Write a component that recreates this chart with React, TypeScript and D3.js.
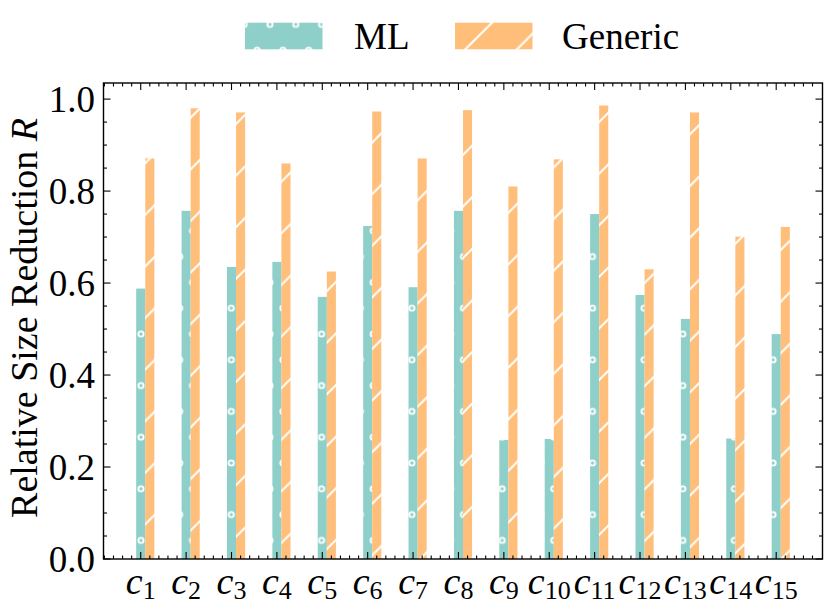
import React, { useEffect, useRef } from 'react';
import * as d3 from 'd3';

// category subscripts c1..c15
const categories: string[] = ['1', '2', '3', '4', '5', '6', '7', '8', '9', '10', '11', '12', '13', '14', '15'];
const mlValues: number[] = [0.588, 0.757, 0.635, 0.646, 0.57, 0.724, 0.591, 0.757, 0.259, 0.261, 0.75, 0.574, 0.522, 0.262, 0.489];
const genericValues: number[] = [0.871, 0.98, 0.971, 0.86, 0.625, 0.973, 0.871, 0.976, 0.81, 0.869, 0.986, 0.63, 0.971, 0.701, 0.722];
const yTickValues: number[] = [0, 0.2, 0.4, 0.6, 0.8, 1.0];
const seriesNames: string[] = ['ML', 'Generic'];

const TEAL = '#8ECFC9';
const ORANGE = '#FFBE7A';
const FONT = "'Liberation Serif'";

export default function App() {
    const ref = useRef<SVGSVGElement>(null);

    useEffect(() => {
        const svg = d3.select(ref.current!);
        svg.selectAll('*').remove();

        const left = 103.5;
        const right = 822.5;
        const top = 83;
        const bottom = 559;
        const barW = 0.2;

        const x = d3.scaleLinear().domain([-0.82, 15.02]).range([left, right]);
        const y = d3.scaleLinear().domain([0, 1.035]).range([bottom, top]);

        // hatch patterns (anchored to the page, like matplotlib)
        const defs = svg.append('defs');
        const T = 25.8;
        const dots = defs
            .append('pattern')
            .attr('id', 'dots')
            .attr('patternUnits', 'userSpaceOnUse')
            .attr('x', 12)
            .attr('y', 24.4)
            .attr('width', T)
            .attr('height', 2 * T);
        dots.append('rect').attr('width', T).attr('height', 2 * T).attr('fill', TEAL);
        [
            [0, 0],
            [T, 0],
            [0, 2 * T],
            [T, 2 * T],
            [T / 2, T]
        ].forEach(([cx, cy]) => {
            dots.append('circle')
                .attr('cx', cx)
                .attr('cy', cy)
                .attr('r', 2.6)
                .attr('fill', 'none')
                .attr('stroke', 'white')
                .attr('stroke-width', 1.9);
        });

        const P = 51.6;
        const diag = defs
            .append('pattern')
            .attr('id', 'diag')
            .attr('patternUnits', 'userSpaceOnUse')
            .attr('x', 50.3)
            .attr('y', 0)
            .attr('width', P)
            .attr('height', P);
        diag.append('rect').attr('width', P).attr('height', P).attr('fill', ORANGE);
        [
            [-2, P + 2, P + 2, -2],
            [-2, 2, 2, -2],
            [P - 2, P + 2, P + 2, P - 2]
        ].forEach(([x1, y1, x2, y2]) => {
            diag.append('line')
                .attr('x1', x1)
                .attr('y1', y1)
                .attr('x2', x2)
                .attr('y2', y2)
                .attr('stroke', 'white')
                .attr('stroke-width', 2);
        });

        // bars
        svg.append('g')
            .selectAll('rect')
            .data(mlValues)
            .join('rect')
            .attr('x', (_, i) => x(i - barW / 2))
            .attr('y', (d) => y(d))
            .attr('width', x(barW) - x(0))
            .attr('height', (d) => y(0) - y(d))
            .attr('fill', 'url(#dots)');

        svg.append('g')
            .selectAll('rect')
            .data(genericValues)
            .join('rect')
            .attr('x', (_, i) => x(i + barW / 2))
            .attr('y', (d) => y(d))
            .attr('width', x(barW) - x(0))
            .attr('height', (d) => y(0) - y(d))
            .attr('fill', 'url(#diag)');

        // ticks (inward, all four sides)
        const ticks = svg.append('g').attr('stroke', 'black').attr('stroke-width', 1.1);
        const xMajor = categories.map((_, i) => i);
        const xMinor = d3.range(-4, 76).map((k) => k * 0.2).filter((v) => v >= -0.82 && v <= 15.02 && Math.abs(v - Math.round(v)) > 1e-6);
        const yMinor = d3.range(0, 21).map((k) => k * 0.05).filter((v) => Math.abs(v * 5 - Math.round(v * 5)) > 1e-6);

        const drawX = (vals: number[], len: number) => {
            vals.forEach((v) => {
                ticks.append('line').attr('x1', x(v)).attr('x2', x(v)).attr('y1', bottom).attr('y2', bottom - len);
                ticks.append('line').attr('x1', x(v)).attr('x2', x(v)).attr('y1', top).attr('y2', top + len);
            });
        };
        const drawY = (vals: number[], len: number) => {
            vals.forEach((v) => {
                ticks.append('line').attr('x1', left).attr('x2', left + len).attr('y1', y(v)).attr('y2', y(v));
                ticks.append('line').attr('x1', right).attr('x2', right - len).attr('y1', y(v)).attr('y2', y(v));
            });
        };
        drawX(xMajor, 7);
        drawX(xMinor, 3.5);
        drawY(yTickValues, 7);
        drawY(yMinor, 3.5);

        // frame
        svg.append('rect')
            .attr('x', left)
            .attr('y', top)
            .attr('width', right - left)
            .attr('height', bottom - top)
            .attr('fill', 'none')
            .attr('stroke', 'black')
            .attr('stroke-width', 1.4);

        // y tick labels
        svg.append('g')
            .selectAll('text')
            .data(yTickValues)
            .join('text')
            .attr('x', 95)
            .attr('y', (d) => y(d) + 12.5)
            .attr('text-anchor', 'end')
            .style('font-size', '37px')
            .style('font-family', FONT)
            .text((d) => d3.format('.1f')(d));

        // x tick labels c_i
        const xl = svg.append('g')
            .selectAll('text')
            .data(categories)
            .join('text')
            .attr('x', (_, i) => x(i))
            .attr('y', 594.3)
            .attr('text-anchor', 'middle')
            .style('font-family', FONT)
            .style('font-size', '38px');
        xl.append('tspan').style('font-style', 'italic').text('c');
        xl.append('tspan').style('font-size', '26px').attr('dy', 4.7).text((d) => d);

        // y axis title
        const yl = svg.append('text')
            .attr('transform', 'translate(36.5,318) rotate(-90)')
            .attr('text-anchor', 'middle')
            .style('font-family', FONT)
            .style('font-size', '38px');
        yl.append('tspan').text('Relative Size Reduction ');
        yl.append('tspan').style('font-style', 'italic').text('R');

        // legend
        const legend = svg.append('g');
        const patchX = [245, 455];
        const textX = [354, 562];
        const fills = ['url(#dots)', 'url(#diag)'];
        seriesNames.forEach((name, i) => {
            legend.append('rect')
                .attr('x', patchX[i])
                .attr('y', 22.7)
                .attr('width', 77.5)
                .attr('height', 26.6)
                .attr('fill', fills[i]);
            legend.append('text')
                .attr('x', textX[i])
                .attr('y', 49.3)
                .style('font-family', FONT)
                .style('font-size', '37px')
                .text(name);
        });
    }, []);

    return (
        <svg
            ref={ref}
            width={830}
            height={609}
            viewBox="0 0 830 609"
            style={{ position: 'absolute', left: 0, top: 0, background: 'white' }}
        />
    );
}
